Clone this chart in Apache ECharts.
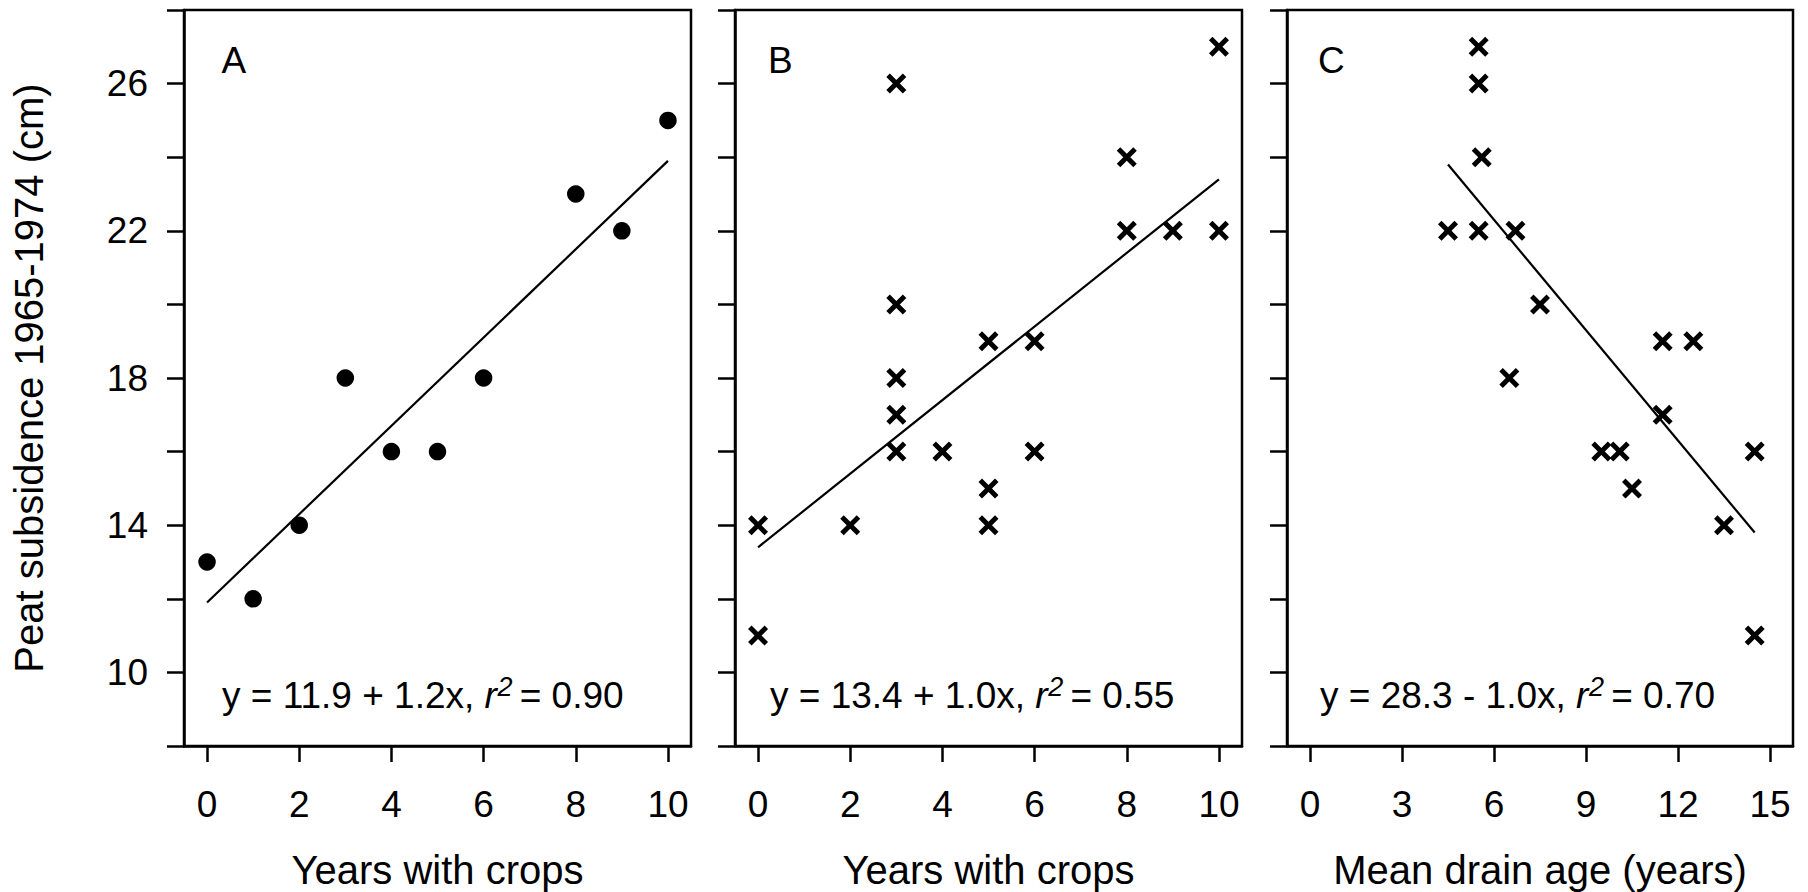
<!DOCTYPE html>
<html>
<head>
<meta charset="utf-8">
<script src="https://cdn.jsdelivr.net/npm/echarts@6/dist/echarts.min.js"></script>
<style>
  html, body { margin: 0; padding: 0; background: #ffffff; }
  #chart { width: 1808px; height: 892px; }
</style>
</head>
<body>
<div id="chart"></div>
<script>
// Panel A: years with crops vs. peat subsidence (cm)
const yearsA = [0, 1, 2, 3, 4, 5, 6, 8, 9, 10];
const subsidenceA = [13, 12, 14, 18, 16, 16, 18, 23, 22, 25];

// Panel B: years with crops vs. peat subsidence (cm)
const yearsB = [0, 0, 2, 3, 3, 3, 3, 3, 4, 5, 5, 5, 6, 6, 8, 8, 9, 10, 10];
const subsidenceB = [14, 11, 14, 26, 20, 18, 17, 16, 16, 19, 15, 14, 19, 16, 24, 22, 22, 27, 22];

// Panel C: mean drain age (years) vs. peat subsidence (cm)
const drainAgeC = [4.5, 5.5, 5.5, 5.5, 5.6, 6.5, 6.7, 7.5, 9.5, 10.1, 10.5, 11.5, 11.5, 12.5, 13.5, 14.5, 14.5];
const subsidenceC = [22, 27, 26, 22, 24, 18, 22, 20, 16, 16, 15, 19, 17, 19, 14, 16, 11];

// Regression lines as printed in each panel
const fitIntercept = [11.9, 13.4, 28.3];
const fitSlope = [1.2, 1.0, -1.0];
const fitR2 = [0.90, 0.55, 0.70];
const fitFrom = [0, 0, 4.5];
const fitTo = [10, 10, 14.5];

// Axis ticks and labels
const xTicksAB = [0, 2, 4, 6, 8, 10];
const xTicksC = [0, 3, 6, 9, 12, 15];
const yTicks = [8, 10, 12, 14, 16, 18, 20, 22, 24, 26, 28];
const yLabels = [10, 14, 18, 22, 26];

const panelLetters = ['A', 'B', 'C'];
const xNames = ['Years with crops', 'Years with crops', 'Mean drain age (years)'];
const yName = 'Peat subsidence 1965-1974 (cm)';

const FONT = '"Liberation Sans", Arial, Helvetica, sans-serif';

// ---- layout ----
const gridLeft = [184, 735, 1287];
const gridWidth = [507, 507, 506];
const gridTop = 10;
const gridHeight = 736;
const xRange = [[-0.5, 10.5], [-0.5, 10.5], [-0.75, 15.75]];
const xTicks = [xTicksAB, xTicksAB, xTicksC];

const xs = [yearsA, yearsB, drainAgeC];
const ys = [subsidenceA, subsidenceB, subsidenceC];

// Bold "x" marker outline (square 20x20, heavy arms)
const crossSymbol = 'path://M3.5,0L10,6.5L16.5,0L20,3.5L13.5,10L20,16.5L16.5,20L10,13.5L3.5,20L0,16.5L6.5,10L0,3.5Z';

const measureCtx = document.createElement('canvas').getContext('2d');
function textWidth(str, size, style) {
  measureCtx.font = (style || 'normal') + ' ' + size + 'px ' + FONT;
  return measureCtx.measureText(str).width;
}

function pairs(a, b) { return a.map((v, i) => [v, b[i]]); }

const grids = [], xAxes = [], yAxes = [], series = [], graphics = [];

for (let i = 0; i < 3; i++) {
  grids.push({
    left: gridLeft[i], top: gridTop, width: gridWidth[i], height: gridHeight,
    show: true, borderColor: '#000', borderWidth: 2.5, backgroundColor: 'transparent',
    outerBoundsMode: 'none', containLabel: false
  });
  xAxes.push({
    type: 'value', gridIndex: i, min: xRange[i][0], max: xRange[i][1],
    axisLine: { show: true, onZero: false, lineStyle: { color: '#000', width: 2.5 } },
    axisTick: { show: true, length: 16, customValues: xTicks[i], lineStyle: { color: '#000', width: 2.5 } },
    axisLabel: { show: true, customValues: xTicks[i], color: '#000', fontSize: 37, fontFamily: FONT, margin: 40 },
    splitLine: { show: false },
    name: xNames[i], nameLocation: 'middle', nameGap: 104,
    nameTextStyle: { color: '#000', fontSize: 40, fontFamily: FONT }
  });
  yAxes.push({
    type: 'value', gridIndex: i, min: 8, max: 28,
    axisLine: { show: true, onZero: false, lineStyle: { color: '#000', width: 2.5 } },
    axisTick: { show: true, length: 17, customValues: yTicks, lineStyle: { color: '#000', width: 2.5 } },
    axisLabel: { show: i === 0, customValues: yLabels, color: '#000', fontSize: 37, fontFamily: FONT, margin: 36 },
    splitLine: { show: false },
    name: i === 0 ? yName : '', nameLocation: 'middle', nameGap: 135, nameRotate: 90,
    nameTextStyle: { color: '#000', fontSize: 40, fontFamily: FONT }
  });

  // fitted line
  const a = fitIntercept[i], b = fitSlope[i];
  series.push({
    type: 'line', xAxisIndex: i, yAxisIndex: i, silent: true, showSymbol: false, z: 2,
    lineStyle: { color: '#000', width: 2.2 },
    data: [[fitFrom[i], a + b * fitFrom[i]], [fitTo[i], a + b * fitTo[i]]]
  });
  // observations
  series.push({
    type: 'scatter', xAxisIndex: i, yAxisIndex: i, z: 3,
    symbol: i === 0 ? 'circle' : crossSymbol,
    symbolSize: i === 0 ? 17.5 : 20,
    itemStyle: { color: '#000', opacity: 1 },
    data: pairs(xs[i], ys[i])
  });
}

// panel letters
const letterX = [221.5, 768, 1318];
panelLetters.forEach((t, i) => {
  graphics.push({
    type: 'text', x: letterX[i], y: 60, silent: true,
    style: { text: t, fill: '#000', fontSize: 37, fontFamily: FONT,
             align: 'left', verticalAlign: 'middle', textAlign: 'left', textVerticalAlign: 'middle' }
  });
});

// regression equations: "y = a ± bx, r² = R"
const eqX = [222, 770, 1320];
const eqSize = 37, supSize = 27;
const eqMidY = 695.5, supMidY = 686.5;
for (let i = 0; i < 3; i++) {
  const b = fitSlope[i];
  const head = 'y = ' + fitIntercept[i].toFixed(1) + ' ' + (b < 0 ? '-' : '+') + ' ' + Math.abs(b).toFixed(1) + 'x, ';
  const tail = ' = ' + fitR2[i].toFixed(2);
  let x = eqX[i];
  const pieces = [];
  pieces.push({ text: head, x: x, y: eqMidY, size: eqSize, style: 'normal' });
  x += textWidth(head, eqSize);
  pieces.push({ text: 'r', x: x, y: eqMidY, size: eqSize, style: 'italic' });
  const supX = x + textWidth('r', eqSize, 'italic') + 0.5;
  pieces.push({ text: '2', x: supX, y: supMidY, size: supSize, style: 'italic' });
  x = supX + textWidth('2', supSize, 'italic') - 3;
  pieces.push({ text: tail, x: x, y: eqMidY, size: eqSize, style: 'normal' });
  pieces.forEach(p => graphics.push({
    type: 'text', x: p.x, y: p.y, silent: true,
    style: { text: p.text, fill: '#000', fontSize: p.size, fontStyle: p.style, fontFamily: FONT,
             align: 'left', verticalAlign: 'middle', textAlign: 'left', textVerticalAlign: 'middle' }
  }));
}

const chart = echarts.init(document.getElementById('chart'), null, { renderer: 'svg', width: 1808, height: 892 });
chart.setOption({
  animation: false,
  backgroundColor: '#ffffff',
  textStyle: { fontFamily: FONT },
  grid: grids,
  xAxis: xAxes,
  yAxis: yAxes,
  series: series,
  graphic: { elements: graphics }
});
</script>
</body>
</html>
